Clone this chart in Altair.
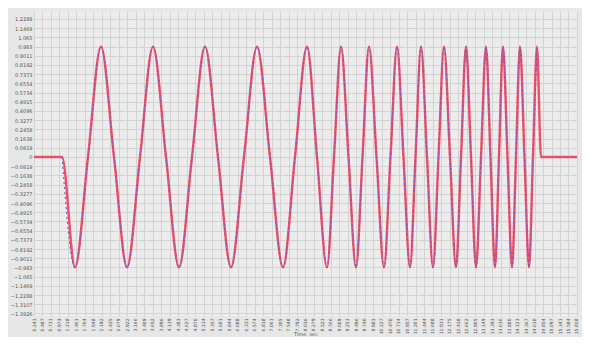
import altair as alt
import pandas as pd

# Signal key points (time in s, value)
t_vals = [0.2435, 1.047, 1.420, 1.793, 2.166, 2.540, 2.913, 3.286, 3.659, 4.032,
          4.405, 4.778, 5.151, 5.524, 5.897, 6.270, 6.644, 7.017, 7.390, 7.734,
          8.079, 8.366, 8.653, 8.854, 9.055, 9.270, 9.485, 9.672, 9.858, 10.074,
          10.289, 10.475, 10.662, 10.848, 11.035, 11.193, 11.351, 11.523, 11.695, 11.853,
          12.011, 12.183, 12.355, 12.499, 12.642, 12.786, 12.929, 13.073, 13.216, 13.345,
          13.475, 13.589, 13.704, 13.833, 13.963, 14.077, 14.192, 14.321, 14.451, 14.565,
          14.680, 14.795, 15.828]
v_vals = [0, 0, -0.983, 0, 0.983, 0, -0.983, 0, 0.983, 0,
          -0.983, 0, 0.983, 0, -0.983, 0, 0.983, 0, -0.983, 0,
          0.983, 0, -0.983, 0, 0.983, 0, -0.983, 0, 0.983, 0,
          -0.983, 0, 0.983, 0, -0.983, 0, 0.983, 0, -0.983, 0,
          0.983, 0, -0.983, 0, 0.983, 0, -0.983, 0, 0.983, 0,
          -0.983, 0, 0.983, 0, -0.983, 0, 0.983, 0, -0.983, 0,
          0.983, 0, 0]

# Axis ticks
x_tick_step = 0.2435
x_ticks = [round(k * x_tick_step, 4) for k in range(1, 66)]
y_ticks = [-1.3926, -1.3107, -1.2288, -1.1469, -1.065, -0.983, -0.9011, -0.8192,
           -0.7373, -0.6554, -0.5734, -0.4915, -0.4096, -0.3277, -0.2458, -0.1638,
           -0.0819, 0, 0.0819, 0.1638, 0.2458, 0.3277, 0.4096, 0.4915, 0.5734,
           0.6554, 0.7373, 0.8192, 0.9011, 0.983, 1.065, 1.1469, 1.2288]

df = pd.DataFrame({"t": t_vals, "v": v_vals})

x_enc = alt.X("t:Q", scale=alt.Scale(domain=[0.2435, 15.828], nice=False, zero=False),
              axis=alt.Axis(values=x_ticks, tickCount=500, format=".3f", labelAngle=270,
                            labelFontSize=4.5, labelOverlap=False, labelBound=False,
                            labelColor="#555555", labelPadding=2, tickSize=0,
                            domain=False, grid=True, gridColor="#d3d3d3",
                            title="Time, sec", titleFontSize=5, titleColor="#555555",
                            titleFontWeight="normal", titleY=20, titleBaseline="bottom",
                            labelFlush=False))
y_enc = alt.Y("v:Q", scale=alt.Scale(domain=[-1.4157, 1.291], nice=False, zero=False),
              axis=alt.Axis(values=y_ticks, tickCount=500, format=".4~f", labelFontSize=5,
                            labelOverlap=False, labelBound=False,
                            labelColor="#555555", labelPadding=2, tickSize=0,
                            domain=False, grid=True, gridColor="#d3d3d3", title=None,
                            labelFlush=False))

red = alt.Chart(df).mark_line(color="#ec5068", strokeWidth=2.4, interpolate="monotone").encode(
    x=x_enc, y=y_enc)
blue = alt.Chart(df).transform_filter(
    (alt.datum.t >= 0.5) & (alt.datum.t <= 14.7)
).mark_line(color="#6a5cd8", strokeWidth=1.1, strokeDash=[2, 3], interpolate="monotone").encode(
    x="t:Q", y="v:Q")

chart = alt.layer(red, blue).properties(
    width=543, height=304,
    autosize=alt.AutoSizeParams(type="none"),
    padding={"left": 26, "top": 4, "right": 5, "bottom": 21},
    background="#e7e7e7",
).configure_view(fill="#ececec", stroke=None).configure_axis(labelFont="DejaVu Sans", titleFont="DejaVu Sans")

chart.save("out.html", embed_options={"renderer": "svg", "actions": False})
